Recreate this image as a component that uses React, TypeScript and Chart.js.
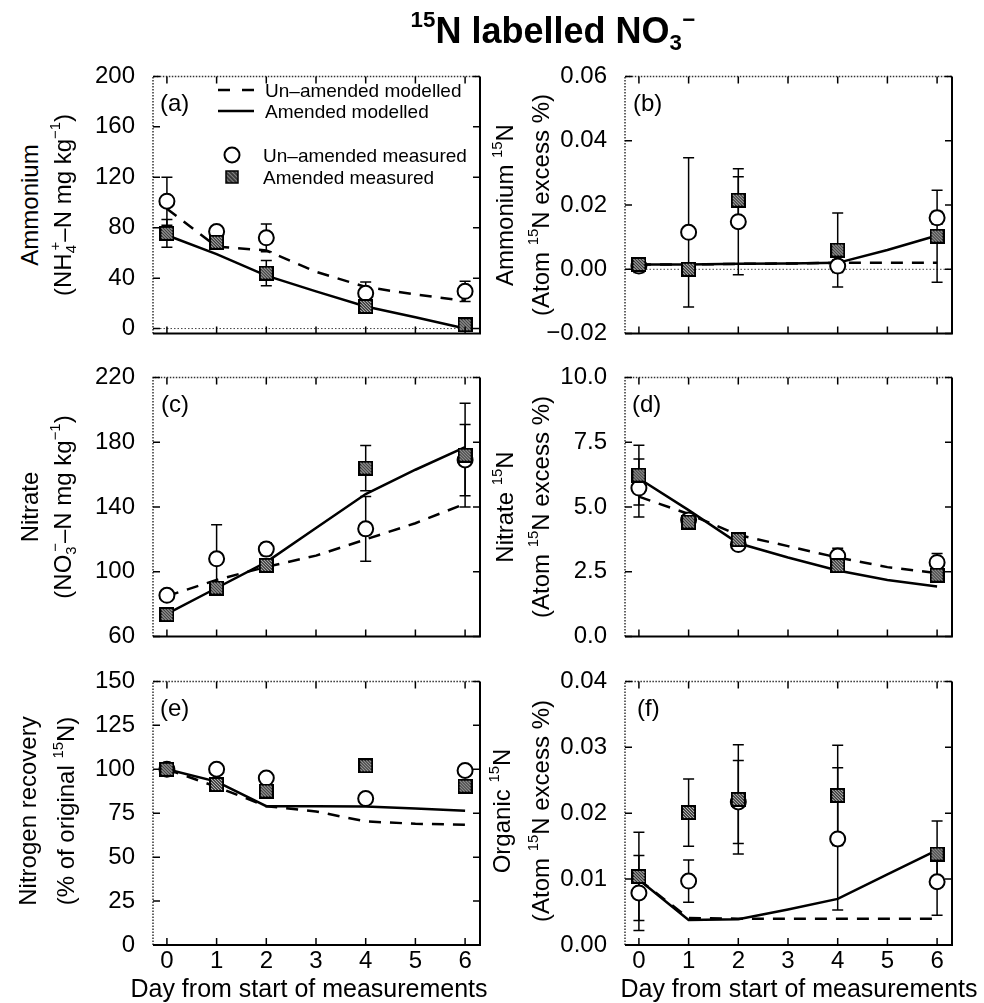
import React, { useEffect, useRef } from 'react';
import { Chart, registerables } from 'chart.js';
Chart.register(...registerables);

const FONT = '"Liberation Sans", Arial, Helvetica, sans-serif';

// ---------- shared x data ----------
const modelDays = [0, 1, 2, 3, 4, 5, 6];
const measuredDays = [0, 1, 2, 4, 6];
const xTicks = [0, 1, 2, 3, 4, 5, 6];
const xTickLabels = ['0', '1', '2', '3', '4', '5', '6'];

// ---------- (a) Ammonium ----------
const aUnModel = [95, 65, 62, 45, 33, 27, 22];
const aAmModel = [74, 59, 42, 29.5, 17.5, 9, 0];
const aUnMeas = [101, 77, 72, 28, 29.5];
const aUnErr = [19, 4, 11, 9, 8];
const aAmMeas = [75.5, 68.5, 44, 17.5, 3];
const aAmErr = [11, 4, 10, 4, 2];
const aYTicks = [0, 40, 80, 120, 160, 200];
const aYTickLabels = ['0', '40', '80', '120', '160', '200'];

// ---------- (b) Ammonium 15N ----------
const bUnModel = [0.0015, 0.0015, 0.0017, 0.0018, 0.002, 0.002, 0.002];
const bAmModel = [0.0015, 0.0015, 0.0017, 0.0018, 0.002, 0.006, 0.0105];
const bUnMeas = [0.001, 0.0115, 0.0148, 0.001, 0.016];
const bUnErr = [0.002, 0.0232, 0.0165, 0.002, 0.002];
const bAmMeas = [0.0015, 0.0, 0.0215, 0.006, 0.0103];
const bAmErr = [0.002, 0.002, 0.0073, 0.0115, 0.0143];
const bYTicks = [-0.02, 0, 0.02, 0.04, 0.06];
const bYTickLabels = ['\u22120.02', '0.00', '0.02', '0.04', '0.06'];

// ---------- (c) Nitrate ----------
const cUnModel = [85, 95, 103, 110, 120, 130, 142];
const cAmModel = [74, 90, 106, 127, 148, 163, 177];
const cUnMeas = [85.5, 108, 114, 126.5, 169];
const cUnErr = [3, 21, 4, 20, 22];
const cAmMeas = [73.6, 90, 104, 164, 172];
const cAmErr = [3, 3, 3, 14, 32];
const cYTicks = [60, 100, 140, 180, 220];
const cYTickLabels = ['60', '100', '140', '180', '220'];

// ---------- (d) Nitrate 15N ----------
const dUnModel = [5.4, 4.73, 3.92, 3.49, 3.05, 2.68, 2.45];
const dAmModel = [6.1, 4.88, 3.6, 3.05, 2.55, 2.18, 1.93];
const dUnMeas = [5.73, 4.5, 3.55, 3.11, 2.86];
const dUnErr = [1.12, 0.15, 0.15, 0.3, 0.35];
const dAmMeas = [6.23, 4.42, 3.74, 2.74, 2.37];
const dAmErr = [1.15, 0.15, 0.2, 0.15, 0.15];
const dYTicks = [0, 2.5, 5, 7.5, 10];
const dYTickLabels = ['0.0', '2.5', '5.0', '7.5', '10.0'];

// ---------- (e) Nitrogen recovery ----------
const eUnModel = [100, 90, 79, 76, 70.3, 69, 68.4];
const eAmModel = [100, 93, 79, 79, 78.8, 77.7, 76.4];
const eUnMeas = [100, 100, 95, 83.3, 99.3];
const eAmMeas = [100, 91.3, 87.6, 102, 90.4];
const eYTicks = [0, 25, 50, 75, 100, 125, 150];
const eYTickLabels = ['0', '25', '50', '75', '100', '125', '150'];

// ---------- (f) Organic 15N ----------
const fUnModel = [0.0099, 0.0041, 0.004, 0.004, 0.004, 0.004, 0.004];
const fAmModel = [0.0099, 0.0038, 0.0039, 0.0054, 0.007, 0.0107, 0.0144];
const fUnMeas = [0.0079, 0.0097, 0.0217, 0.0161, 0.0096];
const fUnErr = [0.0057, 0.0032, 0.0063, 0.0108, 0.0051];
const fAmMeas = [0.0104, 0.0201, 0.0221, 0.0227, 0.0138];
const fAmErr = [0.0067, 0.0051, 0.0083, 0.0076, 0.005];
const fYTicks = [0, 0.01, 0.02, 0.03, 0.04];
const fYTickLabels = ['0.00', '0.01', '0.02', '0.03', '0.04'];

type Panel = {
  left: number; top: number; width: number; height: number;
  yMin: number; yMax: number; yTicks: number[]; yTickLabels: string[];
  unModel: number[]; amModel: number[];
  unMeas: number[]; unErr: number[] | null;
  amMeas: number[]; amErr: number[] | null;
  showX: boolean; zeroLine: boolean;
};

const LW = 110, TP = 20, RP = 20;
const XMIN = -0.28, XMAX = 6.3;
const TICK_SIZE = 24;

const panels: Panel[] = [
  { left: 153, top: 72, width: 327, height: 266, yMin: -4, yMax: 200, yTicks: aYTicks, yTickLabels: aYTickLabels,
    unModel: aUnModel, amModel: aAmModel, unMeas: aUnMeas, unErr: aUnErr, amMeas: aAmMeas, amErr: aAmErr, showX: false, zeroLine: true },
  { left: 625, top: 72, width: 327, height: 266, yMin: -0.02, yMax: 0.06, yTicks: bYTicks, yTickLabels: bYTickLabels,
    unModel: bUnModel, amModel: bAmModel, unMeas: bUnMeas, unErr: bUnErr, amMeas: bAmMeas, amErr: bAmErr, showX: false, zeroLine: true },
  { left: 153, top: 373, width: 327, height: 268, yMin: 60, yMax: 220, yTicks: cYTicks, yTickLabels: cYTickLabels,
    unModel: cUnModel, amModel: cAmModel, unMeas: cUnMeas, unErr: cUnErr, amMeas: cAmMeas, amErr: cAmErr, showX: false, zeroLine: false },
  { left: 625, top: 373, width: 327, height: 268, yMin: 0, yMax: 10, yTicks: dYTicks, yTickLabels: dYTickLabels,
    unModel: dUnModel, amModel: dAmModel, unMeas: dUnMeas, unErr: dUnErr, amMeas: dAmMeas, amErr: dAmErr, showX: false, zeroLine: false },
  { left: 153, top: 677, width: 327, height: 268, yMin: 0, yMax: 150, yTicks: eYTicks, yTickLabels: eYTickLabels,
    unModel: eUnModel, amModel: eAmModel, unMeas: eUnMeas, unErr: null, amMeas: eAmMeas, amErr: null, showX: true, zeroLine: false },
  { left: 625, top: 677, width: 327, height: 268, yMin: 0, yMax: 0.04, yTicks: fYTicks, yTickLabels: fYTickLabels,
    unModel: fUnModel, amModel: fAmModel, unMeas: fUnMeas, unErr: fUnErr, amMeas: fAmMeas, amErr: fAmErr, showX: true, zeroLine: false },
];

function makeHatch(size: number) {
  const c = document.createElement('canvas');
  c.width = size; c.height = size;
  const g = c.getContext('2d')!;
  g.fillStyle = '#3a3a3a';
  g.fillRect(0, 0, size, size);
  g.save();
  g.beginPath(); g.rect(2, 2, size - 4, size - 4); g.clip();
  g.strokeStyle = '#cfcfcf'; g.lineWidth = 1;
  for (let k = -size; k < size * 2; k += 3) {
    g.beginPath(); g.moveTo(k, 0); g.lineTo(k + size, size); g.stroke();
  }
  g.restore();
  g.strokeStyle = '#000'; g.lineWidth = 2;
  g.strokeRect(1, 1, size - 2, size - 2);
  return c;
}

function PanelChart({ p }: { p: Panel }) {
  const ref = useRef<HTMLCanvasElement>(null);
  const BH = p.showX ? 40 : 20;
  const cw = LW + p.width + RP;
  const chh = TP + p.height + BH;
  useEffect(() => {
    const hatch = makeHatch(15);
    const errSets: { idx: number; err: number[] | null }[] = [
      { idx: 0, err: p.amErr },
      { idx: 1, err: p.unErr },
    ];
    const decor = {
      id: 'decor',
      beforeDatasetsDraw(chart: any) {
        const ctx = chart.ctx;
        const ca = chart.chartArea;
        const ys = chart.scales.y;
        ctx.save();
        if (p.zeroLine) {
          const y0 = ys.getPixelForValue(0);
          ctx.strokeStyle = '#444';
          ctx.lineWidth = 1;
          ctx.setLineDash([1.5, 2]);
          ctx.beginPath(); ctx.moveTo(ca.left, y0); ctx.lineTo(ca.right, y0); ctx.stroke();
          ctx.setLineDash([]);
        }
        ctx.strokeStyle = '#000';
        ctx.lineWidth = 1.5;
        errSets.forEach(({ idx, err }) => {
          if (!err) return;
          const meta = chart.getDatasetMeta(idx);
          const ds = chart.data.datasets[idx].data as any[];
          meta.data.forEach((pt: any, i: number) => {
            const v = ds[i].y;
            const e = err[i];
            const yt = ys.getPixelForValue(v + e);
            const yb = ys.getPixelForValue(v - e);
            const x = pt.x;
            ctx.beginPath();
            ctx.moveTo(x, yt); ctx.lineTo(x, yb);
            ctx.moveTo(x - 5.5, yt); ctx.lineTo(x + 5.5, yt);
            ctx.moveTo(x - 5.5, yb); ctx.lineTo(x + 5.5, yb);
            ctx.stroke();
          });
        });
        ctx.restore();
      },
      afterDatasetsDraw(chart: any) {
        const ctx = chart.ctx;
        const ca = chart.chartArea;
        const xs = chart.scales.x;
        const ys = chart.scales.y;
        ctx.save();
        ctx.strokeStyle = '#333';
        ctx.lineWidth = 1.5;
        ctx.setLineDash([1.5, 1.5]);
        ctx.beginPath();
        ctx.moveTo(ca.left, ca.bottom); ctx.lineTo(ca.left, ca.top); ctx.lineTo(ca.right, ca.top);
        ctx.stroke();
        ctx.setLineDash([]);
        ctx.strokeStyle = '#000';
        ctx.lineWidth = 2;
        ctx.beginPath();
        ctx.moveTo(ca.left, ca.bottom); ctx.lineTo(ca.right, ca.bottom); ctx.lineTo(ca.right, ca.top);
        ctx.stroke();
        ctx.lineWidth = 1.5;
        const tl = 7;
        xs.ticks.forEach((t: any) => {
          const x = xs.getPixelForValue(t.value);
          ctx.beginPath();
          ctx.moveTo(x, ca.bottom); ctx.lineTo(x, ca.bottom - tl);
          ctx.moveTo(x, ca.top); ctx.lineTo(x, ca.top + tl);
          ctx.stroke();
        });
        ys.ticks.forEach((t: any) => {
          const y = ys.getPixelForValue(t.value);
          ctx.beginPath();
          ctx.moveTo(ca.left, y); ctx.lineTo(ca.left + tl, y);
          ctx.moveTo(ca.right, y); ctx.lineTo(ca.right - tl, y);
          ctx.stroke();
        });
        ctx.restore();
      },
    };
    const chart = new Chart(ref.current!, {
      type: 'scatter',
      data: {
        datasets: [
          {
            label: 'Amended measured',
            data: p.amMeas.map((y, i) => ({ x: measuredDays[i], y })),
            pointStyle: hatch as any, pointRadius: 7.5, showLine: false, order: 0,
          },
          {
            label: 'Un-amended measured',
            data: p.unMeas.map((y, i) => ({ x: measuredDays[i], y })),
            pointStyle: 'circle', pointRadius: 7.5, pointBorderWidth: 2,
            pointBackgroundColor: '#fff', pointBorderColor: '#000', showLine: false, order: 1,
          },
          {
            label: 'Amended modelled',
            data: p.amModel.map((y, i) => ({ x: modelDays[i], y })),
            showLine: true, borderColor: '#000', borderWidth: 2.5, pointRadius: 0, order: 2,
          },
          {
            label: 'Un-amended modelled',
            data: p.unModel.map((y, i) => ({ x: modelDays[i], y })),
            showLine: true, borderColor: '#000', borderWidth: 2.5, borderDash: [12, 9], pointRadius: 0, order: 3,
          },
        ],
      },
      options: {
        animation: false,
        responsive: false,
        events: [],
        layout: { padding: { top: TP, right: RP, left: 0, bottom: 0 } },
        plugins: { legend: { display: false }, tooltip: { enabled: false } },
        scales: {
          x: {
            type: 'linear', min: XMIN, max: XMAX,
            afterBuildTicks: (s: any) => { s.ticks = xTicks.map((v) => ({ value: v })); },
            afterFit: (s: any) => { s.height = BH; },
            ticks: {
              display: p.showX, autoSkip: false, maxRotation: 0, padding: -4,
              callback: (_v: any, i: number) => xTickLabels[i],
              font: { family: FONT, size: TICK_SIZE, lineHeight: 1 }, color: '#000',
            },
            grid: { display: false },
            border: { display: false },
          },
          y: {
            type: 'linear', min: p.yMin, max: p.yMax,
            afterBuildTicks: (s: any) => { s.ticks = p.yTicks.map((v) => ({ value: v })); },
            afterFit: (s: any) => { s.width = LW; },
            ticks: {
              autoSkip: false, padding: 10,
              callback: (_v: any, i: number) => p.yTickLabels[i],
              font: { family: FONT, size: TICK_SIZE }, color: '#000',
            },
            grid: { display: false },
            border: { display: false },
          },
        },
      },
      plugins: [decor],
    } as any);
    return () => chart.destroy();
  }, []);
  return (
    <canvas
      ref={ref}
      width={cw}
      height={chh}
      style={{ position: 'absolute', left: p.left - LW, top: p.top - TP, width: cw, height: chh }}
    />
  );
}

const sup: React.CSSProperties = { fontSize: '0.62em', position: 'relative', top: '-0.72em' };
const sub: React.CSSProperties = { fontSize: '0.62em', position: 'relative', top: '0.32em' };

function VTitle({ x, y, children }: { x: number; y: number; children: React.ReactNode }) {
  return (
    <div
      style={{
        position: 'absolute', left: x, top: y, transform: 'translate(-50%, -50%) rotate(-90deg)',
        whiteSpace: 'nowrap', font: `24px ${FONT}`, lineHeight: 1, color: '#000',
      }}
    >
      {children}
    </div>
  );
}

function Txt({ x, y, size, children, center, bold }: { x: number; y: number; size: number; children: React.ReactNode; center?: boolean; bold?: boolean }) {
  return (
    <div
      style={{
        position: 'absolute', left: x, top: y,
        transform: center ? 'translate(-50%, -50%)' : 'translate(0, -50%)',
        whiteSpace: 'nowrap', font: `${bold ? 'bold ' : ''}${size}px ${FONT}`, lineHeight: 1, color: '#000',
      }}
    >
      {children}
    </div>
  );
}

const N15 = (
  <>
    <span style={sup}>15</span>N
  </>
);

export default function App() {
  return (
    <div style={{ position: 'absolute', left: 0, top: 0, width: 984, height: 1003, overflow: 'hidden', background: '#fff' }}>
      {panels.map((p, i) => (
        <PanelChart key={i} p={p} />
      ))}

      {/* title */}
      <Txt x={553} y={31} size={36} center bold>
        <span style={sup}>15</span>N labelled NO<span style={sub}>3</span>
        <span style={{ ...sup, marginLeft: '0.02em' }}>{'\u2212'}</span>
      </Txt>

      {/* y titles */}
      <VTitle x={30} y={205}>Ammonium</VTitle>
      <VTitle x={63} y={205}>
        (NH<span style={sub}>4</span>
        <span style={{ ...sup, marginLeft: '-0.36em' }}>+</span>{'\u2013'}N mg kg<span style={sup}>{'\u22121'}</span>)
      </VTitle>
      <VTitle x={505} y={205}>Ammonium {N15}</VTitle>
      <VTitle x={541} y={205}>(Atom {N15} excess %)</VTitle>

      <VTitle x={30} y={507}>Nitrate</VTitle>
      <VTitle x={63} y={507}>
        (NO<span style={sub}>3</span>
        <span style={{ ...sup, marginLeft: '-0.36em' }}>{'\u2212'}</span>{'\u2013'}N mg kg<span style={sup}>{'\u22121'}</span>)
      </VTitle>
      <VTitle x={505} y={507}>Nitrate {N15}</VTitle>
      <VTitle x={541} y={507}>(Atom {N15} excess %)</VTitle>

      <VTitle x={28} y={811}>Nitrogen recovery</VTitle>
      <VTitle x={66} y={811}>(% of original {N15})</VTitle>
      <VTitle x={502} y={811}>Organic {N15}</VTitle>
      <VTitle x={541} y={811}>(Atom {N15} excess %)</VTitle>

      {/* x titles */}
      <Txt x={309} y={988} size={25} center>Day from start of measurements</Txt>
      <Txt x={799} y={988} size={25} center>Day from start of measurements</Txt>

      {/* panel letters */}
      <Txt x={160} y={103} size={24}>(a)</Txt>
      <Txt x={633} y={103} size={24}>(b)</Txt>
      <Txt x={161} y={404} size={24}>(c)</Txt>
      <Txt x={632} y={404} size={24}>(d)</Txt>
      <Txt x={160} y={708} size={24}>(e)</Txt>
      <Txt x={637} y={708} size={24}>(f)</Txt>

      {/* legend in (a) */}
      <svg style={{ position: 'absolute', left: 0, top: 0 }} width={984} height={1003}>
        <defs>
          <pattern id="hatchPat" width="3" height="3" patternUnits="userSpaceOnUse" patternTransform="rotate(-45)">
            <rect width="3" height="3" fill="#3a3a3a" />
            <line x1="0" y1="0" x2="0" y2="3" stroke="#cfcfcf" strokeWidth="1" />
          </pattern>
        </defs>
        <line x1={218} y1={90} x2={254} y2={90} stroke="#000" strokeWidth={2.5} strokeDasharray="12 12" />
        <line x1={218} y1={111} x2={254} y2={111} stroke="#000" strokeWidth={2.5} />
        <circle cx={232} cy={155} r={7.5} fill="#fff" stroke="#000" strokeWidth={2} />
        <rect x={226} y={171} width={12} height={12} fill="url(#hatchPat)" stroke="#000" strokeWidth={1.5} />
      </svg>
      <Txt x={265} y={90} size={19}>Un{'\u2013'}amended modelled</Txt>
      <Txt x={265} y={111} size={19}>Amended modelled</Txt>
      <Txt x={263} y={155} size={19}>Un{'\u2013'}amended measured</Txt>
      <Txt x={263} y={177} size={19}>Amended measured</Txt>
    </div>
  );
}
